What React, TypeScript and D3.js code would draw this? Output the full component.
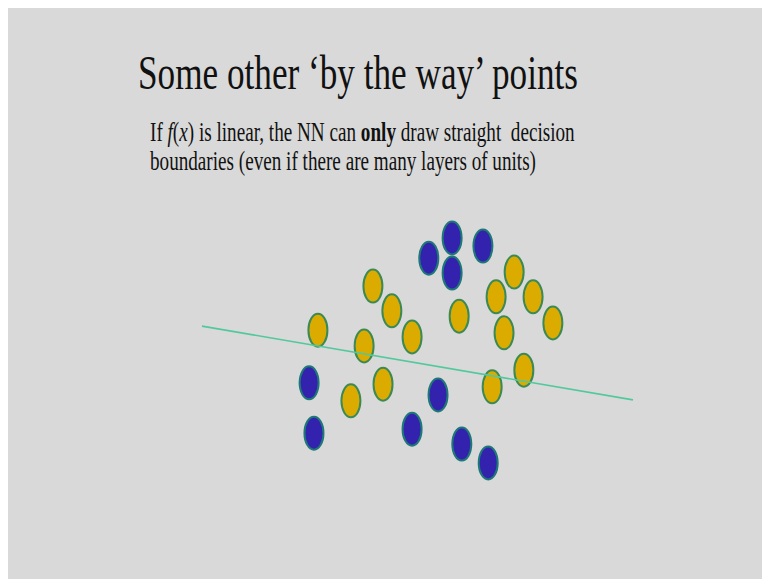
import React, { useLayoutEffect, useRef, useState } from "react";
import * as d3 from "d3";

// Two classes of samples in a 2-D feature space (x1, x2)
const goldX = [2.68, 3.93, 4.36, 4.82, 3.73, 5.89, 7.14, 6.73, 7.57, 6.91, 8.02, 3.43, 4.16, 6.64, 7.36];
const goldY = [3.33, 4.31, 3.76, 3.18, 2.98, 3.64, 4.62, 4.07, 4.07, 3.27, 3.49, 1.76, 2.13, 2.07, 2.44];
const blueX = [5.2, 5.73, 5.73, 6.43, 2.48, 2.59, 5.41, 4.82, 5.95, 6.55];
const blueY = [4.93, 5.38, 4.6, 5.2, 2.16, 1.04, 1.89, 1.13, 0.8, 0.38];

// A single linear decision boundary, given by its two end points
const boundaryX = [0.045, 9.84];
const boundaryY = [3.42, 1.78];

const titleText = "Some other \u2018by the way\u2019 points";

const W = 762;
const H = 579;
const FONT = "'Liberation Serif', 'Times New Roman', serif";

// Text that is squeezed horizontally to occupy a given width
function FitText({
  x,
  y,
  width,
  size,
  children,
}: {
  x: number;
  y: number;
  width: number;
  size: number;
  children: React.ReactNode;
}) {
  const ref = useRef<SVGTextElement>(null);
  const [sx, setSx] = useState(0.72);
  useLayoutEffect(() => {
    if (ref.current) {
      const w = ref.current.getBBox().width;
      if (w > 0) setSx(width / w);
    }
  }, [width]);
  return (
    <g transform={`translate(${x},${y}) scale(${sx},1)`}>
      <text ref={ref} x={0} y={0} fontFamily={FONT} fontSize={size} fill="#111">
        {children}
      </text>
    </g>
  );
}

export default function App() {
  const x = d3.scaleLinear().domain([0, 10]).range([200, 640]);
  const y = d3.scaleLinear().domain([0, 6]).range([480, 210]);

  const gold = goldX.map((v, i) => ({ x: v, y: goldY[i] }));
  const blue = blueX.map((v, i) => ({ x: v, y: blueY[i] }));
  const boundary = boundaryX.map((v, i) => [v, boundaryY[i]] as [number, number]);

  const line = d3
    .line<[number, number]>()
    .x((d) => x(d[0]))
    .y((d) => y(d[1]));

  const rx = 9.5;
  const ry = 16.5;

  return (
    <svg
      width={W}
      height={H}
      style={{ position: "absolute", left: 0, top: 0, display: "block" }}
    >
      <rect x={0} y={0} width={W} height={H} fill="#ffffff" />
      <rect x={8} y={8} width={W - 8} height={H - 8} fill="#d9d9d9" />

      <FitText x={138} y={89} width={440} size={48}>
        {titleText}
      </FitText>

      <FitText x={150} y={141} width={425} size={26.5}>
        {"If "}
        <tspan fontStyle="italic">f</tspan>
        {"("}
        <tspan fontStyle="italic">x</tspan>
        {") is linear, the NN can "}
        <tspan fontWeight="bold">only</tspan>
        {" draw straight\u00a0 decision"}
      </FitText>
      <FitText x={150} y={170} width={386} size={26.5}>
        boundaries (even if there are many layers of units)
      </FitText>

      <g>
        {gold.map((d, i) => (
          <ellipse
            key={"g" + i}
            cx={x(d.x)}
            cy={y(d.y)}
            rx={rx}
            ry={ry}
            fill="#dcab00"
            stroke="#3b8a55"
            strokeWidth={2}
          />
        ))}
        {blue.map((d, i) => (
          <ellipse
            key={"b" + i}
            cx={x(d.x)}
            cy={y(d.y)}
            rx={rx}
            ry={ry}
            fill="#3322ae"
            stroke="#1e7878"
            strokeWidth={2}
          />
        ))}
      </g>

      <path d={line(boundary) ?? ""} fill="none" stroke="#52c99c" strokeWidth={1.6} />
    </svg>
  );
}
